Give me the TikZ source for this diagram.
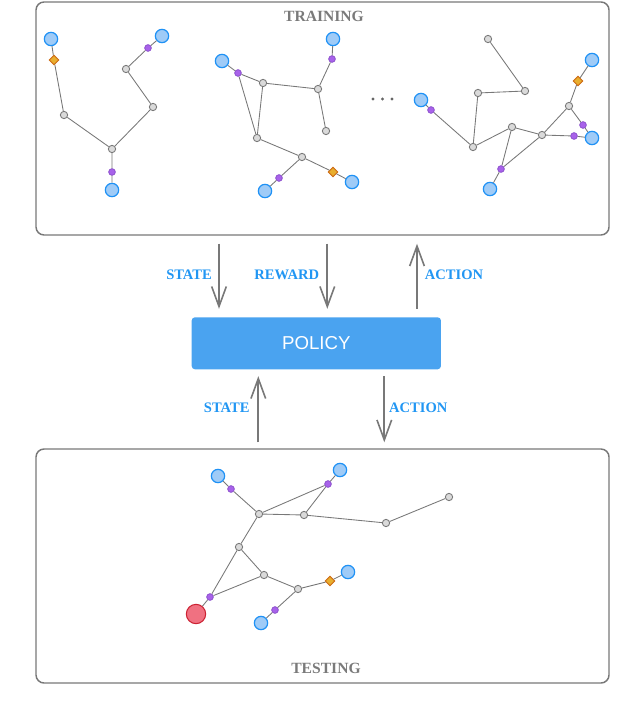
\documentclass[tikz,border=0pt]{standalone}
\usepackage{fontspec}
\setmainfont{Liberation Serif}
\newfontfamily\policyfont{Liberation Sans}
\usetikzlibrary{shapes.geometric,arrows.meta}

\definecolor{leafblue}{RGB}{159,203,247}
\definecolor{leafline}{RGB}{30,145,245}
\definecolor{hubgray}{RGB}{218,218,218}
\definecolor{hubline}{RGB}{120,120,120}
\definecolor{linkpurple}{RGB}{168,98,234}
\definecolor{linkline}{RGB}{140,80,205}
\definecolor{gateorange}{RGB}{232,174,46}
\definecolor{gateline}{RGB}{205,105,20}
\definecolor{goalred}{RGB}{240,113,129}
\definecolor{goalline}{RGB}{204,34,51}
\definecolor{policyblue}{RGB}{74,163,240}
\definecolor{labelblue}{RGB}{33,150,243}
\definecolor{titlegray}{RGB}{122,122,122}

\tikzset{every picture/.style={line width=0.75pt}}
\tikzset{
  leaf/.style={circle,inner sep=0,minimum size=10pt,fill=leafblue,draw=leafline,line width=0.9pt},
  hub/.style={circle,inner sep=0,minimum size=5.5pt,fill=hubgray,draw=hubline,line width=0.65pt},
  link/.style={circle,inner sep=0,minimum size=5pt,fill=linkpurple,draw=linkline,line width=0.6pt},
  gate/.style={diamond,inner sep=0,minimum size=7.5pt,fill=gateorange,draw=gateline,line width=0.7pt},
  goal/.style={circle,inner sep=0,minimum size=14.5pt,fill=goalred,draw=goalline,line width=0.8pt},
  ellip/.style={circle,inner sep=0,minimum size=2.6pt,fill=hubline!85!black},
  edge/.style={draw=hubline,line width=0.65pt},
  frame/.style={draw=hubline,line width=1.1pt,rounded corners=6pt,minimum width=429.75pt,inner sep=0},
  flow/.style={draw=hubline,line width=1.4pt,-{Straight Barb[length=15pt,width=11pt,line width=1.2pt]}},
  flowlabel/.style={text=labelblue,font=\fontsize{10.9}{12}\selectfont\bfseries},
  title/.style={text=titlegray,font=\fontsize{11.7}{13}\selectfont\bfseries},
}

\begin{document}
\begin{tikzpicture}[x=0.75pt,y=0.75pt,yscale=-1,xscale=1]
	\path[use as bounding box] (0,0) rectangle (620,720);

	%Frames
	\node[frame,minimum height=174.75pt] (train) at (322.5,118.5) {};
	\node[frame,minimum height=175.5pt] (test) at (322.5,566) {};
	% Text Node
	\node[title] (traintxt) at (324,16) {TRAINING};
	% Text Node
	\node[title] (testtxt) at (326,668) {TESTING};

	%Policy box
	\node[fill=policyblue,rounded corners=2.5pt,minimum width=187pt,minimum height=39pt,inner sep=0,
	  text=white,font=\policyfont\fontsize{14}{16}\selectfont] (pol) at (316.3,343.3) {POLICY};

	%First training graph
	\node[leaf] (a1) at (51,39) {};
	\node[gate] (a2) at (54,60) {};
	\node[hub] (a3) at (64,115) {};
	\node[hub] (a4) at (112,149) {};
	\node[link] (a5) at (112,172) {};
	\node[leaf] (a6) at (112,190) {};
	\node[hub] (a7) at (153,107) {};
	\node[hub] (a8) at (126,69) {};
	\node[link] (a9) at (148,48) {};
	\node[leaf] (a10) at (162,36) {};
	\path[edge] (a1) -- (a2) -- (a3) -- (a4) -- (a5) -- (a6);
	\path[edge] (a4) -- (a7) -- (a8) -- (a9) -- (a10);

	%Second training graph
	\node[leaf] (b1) at (222,61) {};
	\node[link] (b2) at (238,73) {};
	\node[hub] (b3) at (263,83) {};
	\node[hub] (b4) at (318,89) {};
	\node[link] (b5) at (332,59) {};
	\node[leaf] (b6) at (333,39) {};
	\node[hub] (b7) at (326,131) {};
	\node[hub] (b8) at (257,138) {};
	\node[hub] (b9) at (302,157) {};
	\node[link] (b10) at (279,178) {};
	\node[leaf] (b11) at (265,191) {};
	\node[gate] (b12) at (333,172) {};
	\node[leaf] (b13) at (352,182) {};
	\path[edge] (b1) -- (b2) -- (b3) -- (b4) -- (b5) -- (b6);
	\path[edge] (b2) -- (b8) -- (b3);
	\path[edge] (b4) -- (b7);
	\path[edge] (b8) -- (b9) -- (b10) -- (b11);
	\path[edge] (b9) -- (b12) -- (b13);

	%Dots
	\node[ellip] (d1) at (373,99) {};
	\node[ellip] (d2) at (382.5,99) {};
	\node[ellip] (d3) at (392,99) {};

	%Third training graph
	\node[hub] (c1) at (488,39) {};
	\node[hub] (c2) at (525,91) {};
	\node[hub] (c3) at (478,93) {};
	\node[leaf] (c4) at (421,100) {};
	\node[link] (c5) at (431,110) {};
	\node[hub] (c6) at (473,147) {};
	\node[hub] (c7) at (512,127) {};
	\node[hub] (c8) at (542,135) {};
	\node[hub] (c9) at (569,106) {};
	\node[gate] (c10) at (578,81) {};
	\node[leaf] (c11) at (592,60) {};
	\node[link] (c12) at (583,125) {};
	\node[leaf] (c13) at (592,138) {};
	\node[link] (c14) at (574,136) {};
	\node[link] (c15) at (501,169) {};
	\node[leaf] (c16) at (490,189) {};
	\path[edge] (c1) -- (c2) -- (c3) -- (c6);
	\path[edge] (c4) -- (c5) -- (c6) -- (c7) -- (c8);
	\path[edge] (c7) -- (c15) -- (c8);
	\path[edge] (c15) -- (c16);
	\path[edge] (c8) -- (c9) -- (c10) -- (c11);
	\path[edge] (c9) -- (c12) -- (c13);
	\path[edge] (c8) -- (c14) -- (c13);

	%Testing graph
	\node[leaf] (e1) at (218,476) {};
	\node[link] (e2) at (231,489) {};
	\node[hub] (e3) at (259,514) {};
	\node[hub] (e4) at (304,515) {};
	\node[link] (e5) at (328,484) {};
	\node[leaf] (e6) at (340,470) {};
	\node[hub] (e7) at (386,523) {};
	\node[hub] (e8) at (449,497) {};
	\node[hub] (e9) at (239,547) {};
	\node[hub] (e10) at (264,575) {};
	\node[link] (e11) at (210,597) {};
	\node[goal] (e12) at (196,614) {};
	\node[hub] (e13) at (298,589) {};
	\node[link] (e14) at (275,610) {};
	\node[leaf] (e15) at (261,623) {};
	\node[gate] (e16) at (330,581) {};
	\node[leaf] (e17) at (348,572) {};
	\path[edge] (e1) -- (e2) -- (e3) -- (e4) -- (e5) -- (e6);
	\path[edge] (e3) -- (e5);
	\path[edge] (e4) -- (e7) -- (e8);
	\path[edge] (e3) -- (e9) -- (e10) -- (e11) -- (e9);
	\path[edge] (e11) -- (e12);
	\path[edge] (e10) -- (e13) -- (e14) -- (e15);
	\path[edge] (e13) -- (e16) -- (e17);

	%Arrows
	\coordinate (x1) at (219,0);
	\coordinate (x2) at (327.3,0);
	\coordinate (x3) at (417,0);
	\coordinate (x4) at (258.3,0);
	\coordinate (x5) at (384.3,0);
	\draw[flow,shorten <=6pt,shorten >=6pt] (train.south -| x1) -- (pol.north -| x1);
	\draw[flow,shorten <=6pt,shorten >=6pt] (train.south -| x2) -- (pol.north -| x2);
	\draw[flow,shorten <=6pt,shorten >=6pt] (pol.north -| x3) -- (train.south -| x3);
	\draw[flow,shorten <=4.5pt,shorten >=4.8pt] (test.north -| x4) -- (pol.south -| x4);
	\draw[flow,shorten <=4.8pt,shorten >=4.5pt] (pol.south -| x5) -- (test.north -| x5);

	% Text Node
	\node[flowlabel] (l1) at (189,275) {STATE};
	% Text Node
	\node[flowlabel] (l2) at (286.7,275) {REWARD};
	% Text Node
	\node[flowlabel] (l3) at (454,275) {ACTION};
	% Text Node
	\node[flowlabel] (l4) at (226.7,408) {STATE};
	% Text Node
	\node[flowlabel] (l5) at (418.3,408) {ACTION};

\end{tikzpicture}
\end{document}
